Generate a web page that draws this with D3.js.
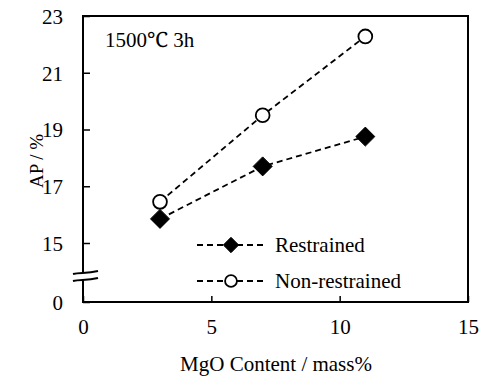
<!DOCTYPE html>
<html>
<head>
<meta charset="utf-8">
<script src="https://cdn.jsdelivr.net/npm/d3@7"></script>
<style>
  body { margin: 0; background: #fff; }
  text { font-family: 'Liberation Serif', 'Tinos', 'Noto Serif', serif !important; }
</style>
</head>
<body>
<svg id="chart" width="480" height="380"></svg>
<script>
// MgO content (mass%) and apparent porosity (%)
var mgo = [3, 7, 11];
var restrained = [15.85, 17.7, 18.75];
var nonRestrained = [16.45, 19.5, 22.28];
var xTicks = [0, 5, 10, 15];
var yTicks = [0, 15, 17, 19, 21, 23];

var FS = 21;

var svg = d3.select("#chart");

var x = d3.scaleLinear().domain([0, 15]).range([83, 468]);
// broken axis: 0 sits below the break, 15-23 above
var y = d3.scaleLinear().domain([0, 15, 23]).range([302, 243, 16]);

function styleText(sel) {
    sel.style("font-family", "'Liberation Serif'")
        .attr("font-size", FS)
        .attr("fill", "#000");
}

// place text through a transform instead of x/y
function moveText(sel, tx, ty) {
    sel.attr("x", null).attr("y", null)
        .attr("transform", "translate(" + tx + "," + ty + ")");
}

// inward ticks
svg.append("g")
    .attr("transform", "translate(0,302)")
    .call(d3.axisBottom(x).tickValues(xTicks).tickSize(-6).tickPadding(17))
    .call(function (g) {
        g.attr("font-family", null).attr("font-size", null);
        g.select(".domain").remove();
        g.selectAll("line").attr("stroke", "#000").attr("stroke-width", 1.5);
        g.selectAll("text").call(styleText).attr("dy", "0.71em")
            .each(function () { moveText(d3.select(this), 0, 17); });
    });

svg.append("g")
    .attr("transform", "translate(83,0)")
    .call(d3.axisLeft(y).tickValues(yTicks).tickSize(-7).tickPadding(20))
    .call(function (g) {
        g.attr("font-family", null).attr("font-size", null);
        g.select(".domain").remove();
        g.selectAll("line").attr("stroke", "#000").attr("stroke-width", 1.5);
        g.selectAll("text").call(styleText).attr("dy", "0.35em")
            .each(function () { moveText(d3.select(this), -20, 0); });
    });

// frame
svg.append("rect")
    .attr("x", 83).attr("y", 16)
    .attr("width", 385).attr("height", 286)
    .attr("fill", "none")
    .attr("stroke", "#000")
    .attr("stroke-width", 2);

// axis break
svg.append("rect")
    .attr("x", 80).attr("y", 273)
    .attr("width", 6).attr("height", 6)
    .attr("fill", "#fff");
[273, 280].forEach(function (yy) {
    svg.append("path")
        .attr("d", "M73," + (yy + 1) + " C80," + (yy - 1) + " 86," + (yy + 1) + " 98," + (yy - 2))
        .attr("fill", "none")
        .attr("stroke", "#000")
        .attr("stroke-width", 2);
});

var line = d3.line()
    .x(function (d) { return x(d[0]); })
    .y(function (d) { return y(d[1]); });

function drawSeries(vals, filled) {
    var pts = d3.zip(mgo, vals);
    svg.append("path")
        .datum(pts)
        .attr("d", line)
        .attr("fill", "none")
        .attr("stroke", "#000")
        .attr("stroke-width", 1.8)
        .attr("stroke-dasharray", "6,4");
    var sym = d3.symbol()
        .type(filled ? d3.symbolDiamond2 : d3.symbolCircle)
        .size(filled ? 230 : 150);
    svg.selectAll(null)
        .data(pts)
        .enter().append("path")
        .attr("transform", function (d) {
            return "translate(" + x(d[0]) + "," + y(d[1]) + ")";
        })
        .attr("d", sym)
        .attr("fill", filled ? "#000" : "#fff")
        .attr("stroke", "#000")
        .attr("stroke-width", filled ? 1 : 1.8);
}

drawSeries(nonRestrained, false);
drawSeries(restrained, true);

// legend
var legend = [
    {label: "Restrained", filled: true, y: 245},
    {label: "Non-restrained", filled: false, y: 281}
];
legend.forEach(function (d) {
    svg.append("line")
        .attr("x1", 197).attr("x2", 264)
        .attr("y1", d.y).attr("y2", d.y)
        .attr("stroke", "#000")
        .attr("stroke-width", 1.8)
        .attr("stroke-dasharray", "6,4");
    svg.append("path")
        .attr("transform", "translate(231," + d.y + ")")
        .attr("d", d3.symbol().type(d.filled ? d3.symbolDiamond2 : d3.symbolCircle).size(d.filled ? 150 : 110))
        .attr("fill", d.filled ? "#000" : "#fff")
        .attr("stroke", "#000")
        .attr("stroke-width", d.filled ? 1 : 1.8);
    svg.append("text")
        .call(moveText, 275, d.y)
        .attr("dy", "0.35em")
        .call(styleText)
        .text(d.label);
});

svg.append("text")
    .call(moveText, 105, 47)
    .call(styleText)
    .text("1500\u2103 3h");

svg.append("text")
    .attr("transform", "translate(43,161) rotate(-90)")
    .attr("text-anchor", "middle")
    .call(styleText)
    .attr("font-size", 19)
    .text("AP / %");

svg.append("text")
    .call(moveText, 276, 371)
    .attr("text-anchor", "middle")
    .call(styleText)
    .text("MgO Content / mass%");
</script>
</body>
</html>
